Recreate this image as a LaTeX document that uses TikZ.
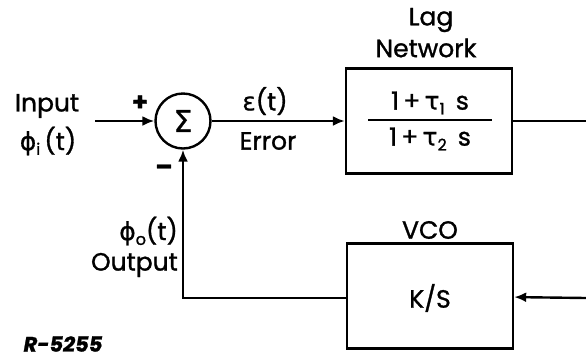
\documentclass[tikz,border=0pt]{standalone}
\usepackage{fontspec}
\setmainfont{Poppins}[FakeBold=1.2]
\newfontfamily\grk{DejaVu Sans}[FakeBold=0.6]
\usetikzlibrary{arrows.meta}
\tikzset{
  blk/.style={draw, line width=2.4pt, minimum width=166pt, minimum height=105pt, inner sep=0pt},
  sumc/.style={draw, circle, line width=2.4pt, minimum size=55pt, inner sep=0pt},
  lbl/.style={font=\fontsize{25}{27}\selectfont, inner sep=0pt},
}
\newcommand{\gsub}[2]{{\grk #1}\raisebox{-0.35ex}{\fontsize{16}{17}\selectfont #2}}
\begin{document}
\begin{tikzpicture}[x=1pt, y=-1pt, >={Latex[length=12pt,width=10pt]}, line width=2.4pt]
    \useasboundingbox (0,0) rectangle (586,360);
    % Bloques
    \node[sumc] (sum) at (183,121) {\fontsize{30}{32}\selectfont\grk Σ};
    \node[blk] (lag) at (429,121) {};
    \node[blk] (vco) at (430,296) {};
    \coordinate (in) at (95,121);
    \coordinate (out) at (586,121);
    \coordinate (vin) at (586,298);
    \coordinate (corner) at (183,298);
    % Lineas
    \draw[->] (in) -- (sum);
    \draw[->] (sum) -- (lag);
    \draw (lag) -- (out);
    \draw[->] (vin) -- (vco);
    \draw[->] (vco.west |- corner) -- (corner) -- (sum);
    % Textos
    \node[lbl] (tin) at (47,106) {Input};
    \node[lbl] (tphii) at (48,141) {\gsub{ϕ}{i}\,(t)};
    \node[lbl] (plus) at (140,103) {\bfseries +};
    \node[lbl] (minus) at (164,170) {\bfseries --};
    \node[lbl] (teps) at (265,101) {{\grk ε}(t)};
    \node[lbl] (terr) at (268,141) {Error};
    \node[lbl] (tlag) at (431,20) {Lag};
    \node[lbl] (tnet) at (426,48) {Network};
    \draw[line width=1.8pt] (368,120) -- (492,120);
    \node[lbl] (tnum) at (430,103) {1\,+\,\gsub{τ}{1}\;\,s};
    \node[lbl] (tden) at (430,139) {1\,+\,\gsub{τ}{2}\;\,s};
    \node[lbl] (tvco) at (430,230) {VCO};
    \node[lbl] (tks) at (430,298) {K/S};
    \node[lbl, anchor=east] (tphio) at (179,231) {\gsub{ϕ}{o}(t)};
    \node[lbl, anchor=east] (tout) at (179,265) {Output};
    \node[font=\fontsize{21}{22}\selectfont\bfseries\itshape, inner sep=0pt] (tref) at (63,344) {R-5255};
\end{tikzpicture}
\end{document}
